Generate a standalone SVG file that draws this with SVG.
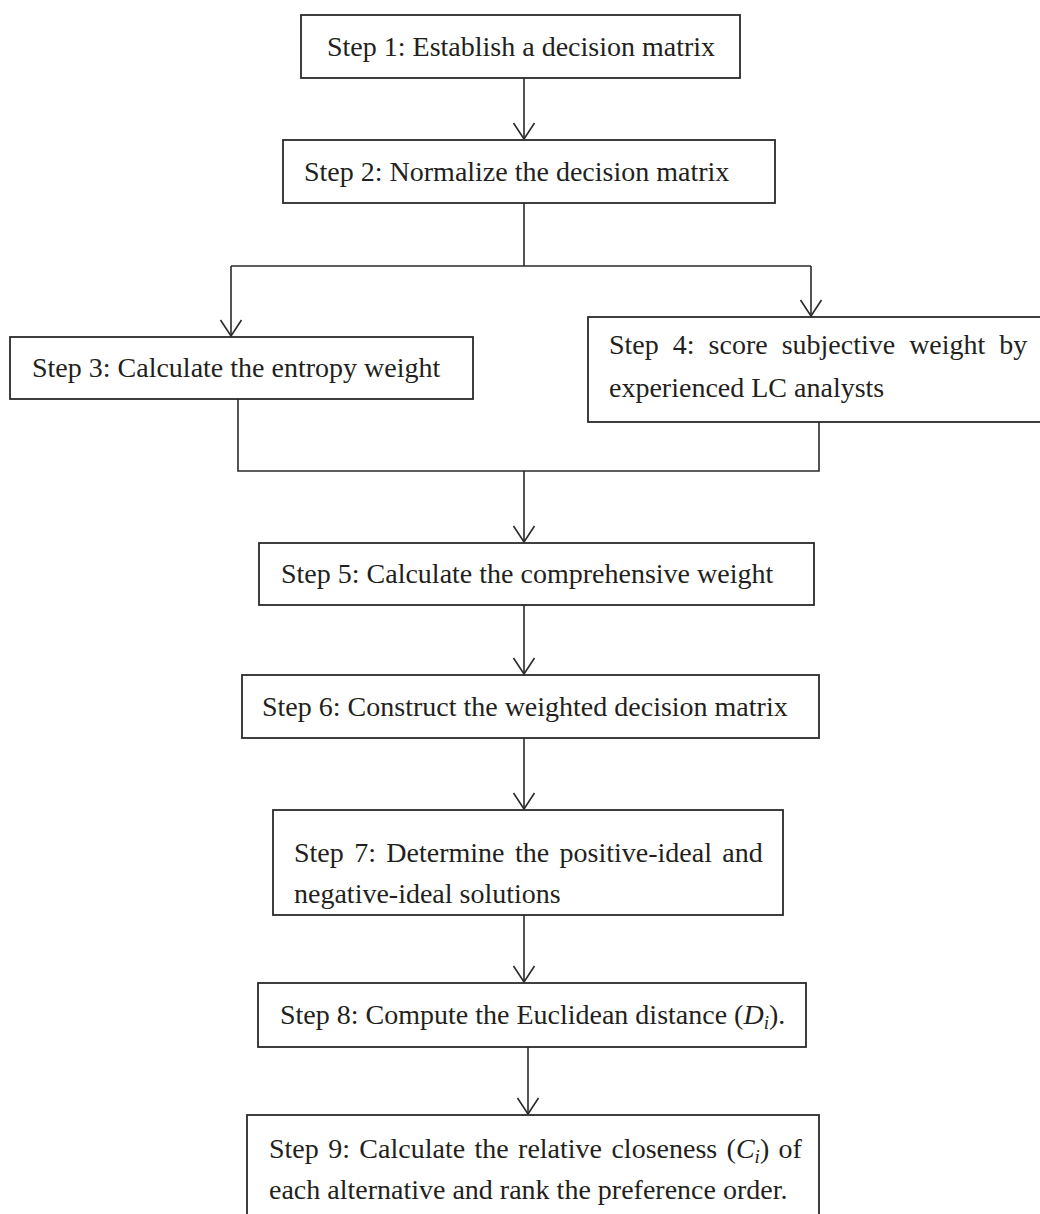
<svg xmlns="http://www.w3.org/2000/svg" width="1040" height="1214" viewBox="0 0 1040 1214">
<style>
.box{fill:#fff;stroke:#2a2a2a;stroke-width:1.8}
.t{font-family:"Liberation Serif","Times New Roman",serif;font-size:28px;fill:#231f20}
.c{fill:none;stroke:#2a2a2a;stroke-width:1.6}
</style>
<defs>
<marker id="ah" markerUnits="userSpaceOnUse" markerWidth="30" markerHeight="30" viewBox="-15 -20 30 24" refX="0" refY="0" orient="auto-start-reverse" overflow="visible">
<path d="M-16,-10.5 L0,0 L-16,10.5" fill="none" stroke="#2a2a2a" stroke-width="1.6"/>
</marker>
</defs>
<rect width="1040" height="1214" fill="#fff"/>
<g id="connectors">
<line class="c" x1="524" y1="78" x2="524" y2="139" marker-end="url(#ah)"/>
<polyline class="c" points="524,203 524,266"/>
<line class="c" x1="231" y1="266" x2="811" y2="266"/>
<line class="c" x1="231" y1="266" x2="231" y2="336" marker-end="url(#ah)"/>
<line class="c" x1="811" y1="266" x2="811" y2="316" marker-end="url(#ah)"/>
<polyline class="c" points="238,399 238,471 819,471 819,422"/>
<line class="c" x1="524" y1="471" x2="524" y2="542" marker-end="url(#ah)"/>
<line class="c" x1="524" y1="605" x2="524" y2="674" marker-end="url(#ah)"/>
<line class="c" x1="524" y1="738" x2="524" y2="809" marker-end="url(#ah)"/>
<line class="c" x1="524" y1="915" x2="524" y2="982" marker-end="url(#ah)"/>
<line class="c" x1="528" y1="1047" x2="528" y2="1114" marker-end="url(#ah)"/>
</g>
<g id="step1">
<rect class="box" x="301" y="15" width="439" height="63"/>
<text class="t" x="327" y="56">Step 1: Establish a decision matrix</text>
</g>
<g id="step2">
<rect class="box" x="283" y="140" width="492" height="63"/>
<text class="t" x="304" y="181">Step 2: Normalize the decision matrix</text>
</g>
<g id="step3">
<rect class="box" x="10" y="337" width="463" height="62"/>
<text class="t" x="32" y="377">Step 3: Calculate the entropy weight</text>
</g>
<g id="step4">
<rect class="box" x="588" y="317" width="470" height="105"/>
<text class="t" x="609" y="354" style="word-spacing:7px">Step 4: score subjective weight by</text>
<text class="t" x="609" y="397">experienced LC analysts</text>
</g>
<g id="step5">
<rect class="box" x="259" y="543" width="555" height="62"/>
<text class="t" x="281" y="583">Step 5: Calculate the comprehensive weight</text>
</g>
<g id="step6">
<rect class="box" x="242" y="675" width="577" height="63"/>
<text class="t" x="262" y="716">Step 6: Construct the weighted decision matrix</text>
</g>
<g id="step7">
<rect class="box" x="273" y="810" width="510" height="105"/>
<text class="t" x="294" y="862" style="word-spacing:3.4px">Step 7: Determine the positive-ideal and</text>
<text class="t" x="294" y="903">negative-ideal solutions</text>
</g>
<g id="step8">
<rect class="box" x="258" y="983" width="548" height="64"/>
<text class="t" x="280" y="1024">Step 8: Compute the Euclidean distance (<tspan font-style="italic">D</tspan><tspan font-style="italic" font-size="19" dy="5">i</tspan><tspan dy="-5">).</tspan></text>
</g>
<g id="step9">
<rect class="box" x="247" y="1115" width="572" height="110"/>
<text class="t" x="269" y="1158" style="word-spacing:2.4px">Step 9: Calculate the relative closeness (<tspan font-style="italic">C</tspan><tspan font-style="italic" font-size="19" dy="5">i</tspan><tspan dy="-5">) of</tspan></text>
<text class="t" x="269" y="1199">each alternative and rank the preference order.</text>
</g>
</svg>
